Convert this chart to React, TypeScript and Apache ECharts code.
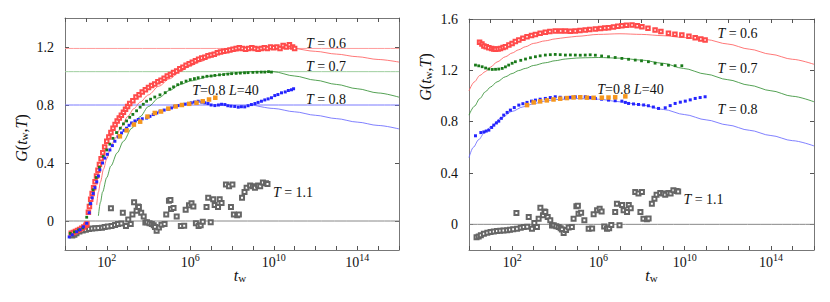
import { useEffect, useRef } from 'react';
import * as echarts from 'echarts';

type P = [number, number][];

// x values are log10(t_w)
const xLabelExps = [2, 6, 10, 14];
const leftYTicks = [0, 0.4, 0.8, 1.2];
const rightYTicks = [0, 0.4, 0.8, 1.2, 1.6];

// Left panel horizontal reference levels: T=0.6, 0.7, 0.8, zero line
const leftHLineLevels = [1.19, 1.03, 0.8, 0];

// ---------- LEFT PANEL DATA ----------
const leftRed: P = [
  [0.3, -0.085], [0.4, -0.08], [0.5, -0.072], [0.6, -0.066], [0.7, -0.058], [0.8, -0.05], [0.9, -0.042], [1.0, -0.03], [1.05, -0.02],
  [1.12, 0.06], [1.17, 0.1], [1.23, 0.15], [1.3, 0.19], [1.37, 0.23], [1.44, 0.27], [1.51, 0.31], [1.58, 0.35], [1.65, 0.39],
  [1.73, 0.43], [1.81, 0.47], [1.9, 0.51], [2.0, 0.55], [2.1, 0.58], [2.2, 0.61], [2.3, 0.64], [2.4, 0.665], [2.5, 0.69],
  [2.6, 0.71], [2.7, 0.73], [2.8, 0.75], [2.9, 0.77], [3.0, 0.79], [3.1, 0.81], [3.25, 0.83], [3.4, 0.855], [3.55, 0.87],
  [3.7, 0.89], [3.85, 0.905], [4.0, 0.92], [4.15, 0.935], [4.3, 0.945], [4.45, 0.96], [4.6, 0.97], [4.75, 0.985], [4.9, 1.0],
  [5.05, 1.01], [5.2, 1.025], [5.35, 1.035], [5.5, 1.05], [5.65, 1.06], [5.8, 1.075], [5.95, 1.085], [6.1, 1.095], [6.25, 1.105],
  [6.4, 1.115], [6.55, 1.125], [6.7, 1.13], [6.85, 1.14], [7.0, 1.145], [7.15, 1.15], [7.3, 1.16], [7.45, 1.165], [7.6, 1.17],
  [7.75, 1.175], [7.9, 1.18], [8.05, 1.185], [8.2, 1.19], [8.35, 1.195], [8.5, 1.19], [8.65, 1.185], [8.8, 1.19], [8.95, 1.195],
  [9.1, 1.19], [9.25, 1.185], [9.4, 1.19], [9.55, 1.195], [9.7, 1.19], [9.85, 1.2], [10.0, 1.195], [10.15, 1.2], [10.3, 1.19],
  [10.45, 1.21], [10.6, 1.2], [10.75, 1.215], [10.9, 1.2], [11.0, 1.19],
];

const leftGreen: P = [
  [0.25, -0.085], [0.45, -0.075], [0.65, -0.062], [0.85, -0.048], [1.04, 0.026], [1.2, 0.12], [1.35, 0.215], [1.5, 0.3],
  [1.65, 0.37], [1.83, 0.445], [2.0, 0.49], [2.15, 0.53], [2.3, 0.57], [2.47, 0.61], [2.65, 0.64], [2.8, 0.67], [2.95, 0.69],
  [3.1, 0.715], [3.25, 0.735], [3.43, 0.76], [3.6, 0.785], [3.75, 0.805], [3.91, 0.826], [4.1, 0.84], [4.3, 0.855], [4.55, 0.87],
  [4.8, 0.885], [5.02, 0.91], [5.2, 0.925], [5.4, 0.94], [5.58, 0.954], [5.8, 0.965], [6.0, 0.975], [6.2, 0.982], [6.38, 0.988],
  [6.6, 0.992], [6.8, 0.998], [7.0, 1.0], [7.18, 1.004], [7.4, 1.008], [7.6, 1.01], [7.8, 1.013], [7.98, 1.016], [8.2, 1.018],
  [8.4, 1.02], [8.6, 1.022], [8.77, 1.023], [9.0, 1.025], [9.2, 1.026], [9.4, 1.027], [9.57, 1.027], [9.75, 1.03], [9.89, 1.027],
];

const leftBlue: P = [
  [0.2, -0.11], [0.35, -0.095], [0.56, -0.074], [0.72, -0.06], [0.88, -0.04], [1.04, -0.016], [1.16, 0.057], [1.23, 0.12],
  [1.3, 0.16], [1.35, 0.19], [1.43, 0.23], [1.52, 0.27], [1.6, 0.31], [1.67, 0.353], [1.8, 0.4], [1.91, 0.434], [2.03, 0.46],
  [2.15, 0.49], [2.27, 0.52], [2.39, 0.55], [2.55, 0.58], [2.71, 0.607], [2.83, 0.625], [2.95, 0.64], [3.07, 0.66], [3.19, 0.676],
  [3.35, 0.69], [3.51, 0.7], [3.7, 0.705], [3.91, 0.71], [4.07, 0.722], [4.23, 0.734], [4.4, 0.745], [4.55, 0.757], [4.75, 0.765],
  [4.94, 0.77], [5.1, 0.78], [5.25, 0.79], [5.42, 0.796], [5.6, 0.8], [5.75, 0.806], [5.9, 0.81], [6.05, 0.815], [6.2, 0.82],
  [6.38, 0.826], [6.55, 0.82], [6.7, 0.815], [6.85, 0.81], [7.0, 0.8], [7.18, 0.796], [7.35, 0.8], [7.5, 0.805], [7.66, 0.803],
  [7.8, 0.795], [7.95, 0.792], [8.13, 0.79], [8.3, 0.785], [8.45, 0.788], [8.61, 0.787], [8.77, 0.795], [8.93, 0.803], [9.1, 0.81],
  [9.25, 0.818], [9.41, 0.826], [9.57, 0.835], [9.73, 0.842], [9.89, 0.85], [10.05, 0.865], [10.2, 0.872], [10.37, 0.884],
  [10.55, 0.89], [10.7, 0.9], [10.85, 0.905], [10.95, 0.912],
];

const leftOrange: P = [
  [2.63, 0.584], [2.95, 0.625], [3.3, 0.665], [3.6, 0.685], [3.95, 0.72], [4.3, 0.745], [4.6, 0.755], [4.95, 0.775],
  [5.3, 0.79], [5.6, 0.8], [5.95, 0.808], [6.3, 0.815], [6.6, 0.826], [6.9, 0.838], [7.2, 0.85],
];

const leftRedFit: P = [
  [1.52, 0.11], [1.6, 0.2], [1.7, 0.27], [1.85, 0.36], [2.0, 0.43], [2.2, 0.51], [2.4, 0.57], [2.7, 0.65], [3.0, 0.72],
  [3.3, 0.775], [3.6, 0.82], [4.0, 0.87], [4.5, 0.93], [5.0, 0.98], [5.5, 1.03], [6.0, 1.07], [6.5, 1.1], [7.0, 1.13],
  [7.5, 1.155], [8.0, 1.17], [9.0, 1.185], [10.0, 1.19], [10.9, 1.19], [12, 1.17], [13, 1.151], [14, 1.133], [15, 1.114], [16, 1.096],
];
const leftGreenFit: P = [
  [1.6, 0.035], [1.7, 0.13], [1.8, 0.2], [2.0, 0.3], [2.2, 0.38], [2.5, 0.47], [2.8, 0.55], [3.2, 0.64], [3.6, 0.72],
  [4.0, 0.79], [4.5, 0.85], [5.0, 0.9], [5.5, 0.94], [6.0, 0.965], [7.0, 1.0], [8.0, 1.02], [9.0, 1.03], [9.97, 1.03],
  [11, 1.0], [12, 0.971], [13, 0.942], [14, 0.912], [15, 0.883], [16, 0.854],
];
const leftBlueFit: P = [
  [9.0, 0.8], [10, 0.776], [11, 0.753], [12, 0.729], [13, 0.706], [14, 0.682], [15, 0.659], [16, 0.635],
];

// ---------- RIGHT PANEL DATA ----------
const rightRed: P = [
  [0.49, 1.418], [0.6, 1.405], [0.69, 1.39], [0.8, 1.383], [0.92, 1.376], [1.05, 1.37], [1.15, 1.366], [1.23, 1.364],
  [1.35, 1.366], [1.46, 1.371], [1.58, 1.378], [1.69, 1.384], [1.85, 1.397], [2.0, 1.41], [2.15, 1.424], [2.31, 1.436],
  [2.5, 1.45], [2.69, 1.462], [2.9, 1.472], [3.08, 1.48], [3.3, 1.489], [3.54, 1.496], [3.75, 1.502], [4.0, 1.507],
  [4.25, 1.506], [4.47, 1.507], [4.7, 1.505], [4.93, 1.507], [5.15, 1.51], [5.39, 1.514], [5.6, 1.518], [5.86, 1.522],
  [6.1, 1.526], [6.3, 1.53], [6.47, 1.532], [6.7, 1.538], [6.9, 1.544], [7.09, 1.548], [7.3, 1.551], [7.56, 1.553],
  [7.8, 1.548], [8.02, 1.54], [8.3, 1.528], [8.63, 1.514], [8.9, 1.503], [9.25, 1.489], [9.55, 1.482], [9.87, 1.475],
  [10.2, 1.465], [10.49, 1.454], [10.75, 1.445], [10.95, 1.436],
];

const rightGreen: P = [
  [0.3, 1.241], [0.45, 1.235], [0.61, 1.228], [0.77, 1.218], [0.92, 1.21], [1.08, 1.207], [1.23, 1.208], [1.38, 1.21],
  [1.54, 1.215], [1.69, 1.227], [1.84, 1.241], [2.0, 1.255], [2.15, 1.267], [2.4, 1.278], [2.62, 1.288], [2.85, 1.298],
  [3.08, 1.306], [3.3, 1.313], [3.54, 1.319], [3.77, 1.322], [4.0, 1.324], [4.23, 1.322], [4.47, 1.319], [4.7, 1.32],
  [4.93, 1.319], [5.16, 1.318], [5.39, 1.319], [5.62, 1.321], [5.86, 1.318], [6.15, 1.312], [6.47, 1.306], [6.78, 1.3],
  [7.09, 1.293], [7.4, 1.286], [7.71, 1.28], [8.0, 1.274], [8.32, 1.267], [8.63, 1.256], [8.94, 1.246], [9.25, 1.24],
  [9.56, 1.236], [9.87, 1.236],
];

const rightBlue: P = [
  [0.3, 0.69], [0.55, 0.715], [0.69, 0.72], [0.8, 0.727], [0.92, 0.734], [1.05, 0.755], [1.15, 0.773], [1.27, 0.79],
  [1.38, 0.804], [1.5, 0.826], [1.61, 0.851], [1.77, 0.872], [1.92, 0.89], [2.1, 0.91], [2.31, 0.929], [2.5, 0.94],
  [2.69, 0.95], [2.9, 0.96], [3.08, 0.968], [3.3, 0.975], [3.54, 0.981], [3.77, 0.988], [4.0, 0.994], [4.23, 0.99],
  [4.47, 0.986], [4.7, 0.99], [4.93, 0.994], [5.16, 0.995], [5.39, 0.994], [5.62, 0.988], [5.86, 0.981], [6.15, 0.975],
  [6.47, 0.968], [6.78, 0.963], [7.09, 0.96], [7.25, 0.95], [7.4, 0.942], [7.63, 0.938], [7.86, 0.934], [8.1, 0.93],
  [8.32, 0.924], [8.55, 0.914], [8.79, 0.903], [9.1, 0.908], [9.33, 0.925], [9.56, 0.942], [9.8, 0.952], [10.03, 0.96],
  [10.26, 0.97], [10.49, 0.981], [10.72, 0.988], [10.95, 0.994],
];

const rightOrange: P = [
  [2.69, 0.929], [3.0, 0.95], [3.3, 0.958], [3.61, 0.966], [3.92, 0.973], [4.23, 0.979], [4.54, 0.984], [4.85, 0.989],
  [5.16, 0.99], [5.47, 0.987], [5.78, 0.986], [6.16, 0.987], [6.47, 0.988], [6.78, 0.99], [7.25, 0.997],
];

const rightRedFit: P = [
  [0, 1.04], [0.25, 1.11], [0.5, 1.16], [0.76, 1.19], [1.0, 1.225], [1.3, 1.265], [1.69, 1.306], [2.0, 1.335], [2.3, 1.36],
  [2.62, 1.384], [3.0, 1.41], [3.54, 1.43], [4.0, 1.445], [4.5, 1.456], [5, 1.465], [6, 1.48], [7, 1.485], [8, 1.48],
  [9, 1.47], [10, 1.455], [11, 1.44], [12, 1.405], [13, 1.365], [14, 1.325], [15, 1.286], [16, 1.247],
];
const rightGreenFit: P = [
  [0, 0.851], [0.25, 0.92], [0.5, 0.98], [0.76, 1.033], [1.0, 1.07], [1.3, 1.11], [1.69, 1.15], [2.0, 1.175], [2.3, 1.198],
  [2.62, 1.215], [3.0, 1.238], [3.54, 1.259], [4.0, 1.275], [4.47, 1.288], [5.0, 1.296], [5.39, 1.298], [6.0, 1.3],
  [7, 1.295], [8, 1.28], [9, 1.255], [9.94, 1.215], [11, 1.17], [12, 1.127], [13, 1.084], [14, 1.041], [15, 0.998], [16, 0.955],
];
const rightBlueFit: P = [
  [0, 0.52], [0.2, 0.6], [0.45, 0.66], [0.7, 0.71], [1.0, 0.76], [1.5, 0.83], [2.0, 0.88], [2.5, 0.915], [3.0, 0.94],
  [3.5, 0.96], [4.0, 0.972], [5.0, 0.98], [6.0, 0.975], [7.0, 0.955], [8.0, 0.93], [9.02, 0.895], [10, 0.855], [11, 0.814],
  [12, 0.774], [13, 0.733], [14, 0.692], [15, 0.652], [16, 0.611],
];

// T = 1.1 (same in both panels)
const black11: P = [
  [0.35, -0.1], [0.45, -0.095], [0.55, -0.085], [0.69, -0.073], [0.85, -0.065], [1.0, -0.06], [1.15, -0.055], [1.3, -0.052],
  [1.45, -0.05], [1.6, -0.048], [1.77, -0.047], [1.9, -0.042], [2.05, -0.038], [2.23, -0.034], [2.4, -0.027], [2.54, -0.021],
  [2.7, -0.018], [2.2, 0.088], [2.77, 0.057], [2.92, -0.034], [3.03, 0.01], [3.15, -0.02], [3.23, 0.044], [3.31, 0.13],
  [3.43, 0.07], [3.5, 0.1], [3.54, 0.096], [3.65, 0.057], [3.77, 0.031], [3.85, -0.01], [3.93, -0.008], [4.05, -0.015],
  [4.16, -0.021], [4.25, -0.03], [4.31, -0.041], [4.39, -0.068], [4.5, -0.045], [4.62, -0.025], [4.77, -0.02], [4.85, 0.044],
  [4.98, 0.14], [5.05, 0.145], [5.08, 0.083], [5.2, 0.09], [5.35, 0.031], [5.55, -0.034], [5.71, -0.032], [5.78, 0.078],
  [5.94, 0.109], [6.06, 0.122], [6.15, 0.1], [6.27, -0.016], [6.4, -0.034], [6.5, -0.03], [6.6, -0.005], [6.78, 0.096],
  [6.86, 0.161], [6.98, -0.008], [7.1, 0.15], [7.17, 0.11], [7.33, 0.096], [7.41, 0.15], [7.5, 0.125], [7.71, 0.252],
  [7.86, 0.24], [8.02, 0.252], [7.95, 0.096], [8.09, 0.044], [8.25, 0.04], [8.33, 0.045], [8.48, 0.161], [8.6, 0.2],
  [8.7, 0.23], [8.87, 0.245], [9.0, 0.24], [9.1, 0.23], [9.25, 0.245], [9.35, 0.24], [9.48, 0.265], [9.63, 0.26], [9.7, 0.255],
];

const SERIF = 'Liberation Serif';
const RED = '#ff4a4a';
const GREEN = '#1a7a1a';
const BLUE = '#2424ff';
const BLACK = '#666';
const ORANGE = '#f5961e';

function fmtY(ticks: number[]) {
  return (v: number) => {
    const r = Math.round(v * 10) / 10;
    return ticks.some((t) => Math.abs(t - r) < 1e-6) && Math.abs(v - r) < 1e-6 ? String(r) : '';
  };
}

function xAxesFor(grid: number) {
  const common = {
    type: 'value' as const,
    gridIndex: grid,
    min: 0,
    max: 16,
    interval: 1,
    splitLine: { show: false },
    axisLine: { show: true, onZero: false, lineStyle: { color: '#777', width: 1 } },
    axisTick: { show: true, inside: true, length: 4, lineStyle: { color: '#555' } },
  };
  return [
    {
      ...common,
      position: 'bottom',
      axisLabel: {
        customValues: xLabelExps,
        margin: 5,
        color: '#111',
        formatter: (v: number) => (xLabelExps.includes(Math.round(v)) ? `{b|10}{s|${Math.round(v)}}` : ''),
        rich: {
          b: { fontFamily: SERIF, fontSize: 14, color: '#111', verticalAlign: 'bottom', lineHeight: 14 },
          s: { fontFamily: SERIF, fontSize: 10, color: '#111', verticalAlign: 'bottom', lineHeight: 10, padding: [0, 0, 7, 0] },
        },
      },
    },
    { ...common, position: 'top', axisLabel: { show: false } },
  ];
}

function yAxesFor(grid: number, max: number, ticks: number[]) {
  const common = {
    type: 'value' as const,
    gridIndex: grid,
    min: -0.2,
    max,
    interval: 0.2,
    splitLine: { show: false },
    axisLine: { show: true, onZero: false, lineStyle: { color: '#777', width: 1 } },
    axisTick: { show: true, inside: true, length: 4, customValues: ticks, lineStyle: { color: '#555' } },
  };
  return [
    {
      ...common,
      position: 'left',
      axisLabel: {
        customValues: ticks,
        margin: 11,
        color: '#111',
        fontFamily: SERIF,
        fontSize: 14,
        formatter: fmtY(ticks),
      },
    },
    { ...common, position: 'right', axisLabel: { show: false } },
  ];
}

function lineS(data: P, xi: number, yi: number, color: string, width = 0.8) {
  return {
    type: 'line',
    xAxisIndex: xi,
    yAxisIndex: yi,
    data,
    symbol: 'none',
    showSymbol: false,
    smooth: 0.3,
    smoothMonotone: 'x',
    silent: true,
    z: 1,
    lineStyle: { color, width },
  };
}

function scatterS(data: P, xi: number, yi: number, symbol: string, size: number, color: string, border: number, z: number) {
  return {
    type: 'scatter',
    xAxisIndex: xi,
    yAxisIndex: yi,
    data,
    symbol,
    symbolSize: size,
    silent: true,
    z,
    itemStyle: { color, borderColor: color, borderWidth: border, opacity: 1 },
  };
}

function label(x: number, y: number, parts: string, size = 14) {
  return {
    type: 'text',
    x,
    y,
    silent: true,
    style: {
      text: parts,
      align: 'center',
      verticalAlign: 'middle',
      fontFamily: SERIF,
      fontSize: size,
      fill: '#111',
      rich: {
        i: { fontFamily: SERIF, fontSize: size, fontStyle: 'italic', fill: '#111' },
        n: { fontFamily: SERIF, fontSize: size, fill: '#111' },
      },
    },
  };
}

function axisTitleX(x: number, y: number) {
  return {
    type: 'text',
    x,
    y,
    silent: true,
    style: {
      text: '{t|t}{w|w}',
      align: 'center',
      verticalAlign: 'middle',
      rich: {
        t: { fontFamily: SERIF, fontSize: 16, fontStyle: 'italic', fill: '#111', verticalAlign: 'top', lineHeight: 16 },
        w: { fontFamily: SERIF, fontSize: 11, fill: '#111', verticalAlign: 'bottom', lineHeight: 11, padding: [8, 0, 0, 0] },
      },
    },
  };
}

function axisTitleY(x: number, y: number) {
  return {
    type: 'text',
    x,
    y,
    rotation: Math.PI / 2,
    silent: true,
    style: {
      text: '{i|G}{n|(}{i|t}{w|w}{n|,}{i|T}{n|)}',
      align: 'center',
      verticalAlign: 'middle',
      rich: {
        i: { fontFamily: SERIF, fontSize: 16, fontStyle: 'italic', fill: '#111', verticalAlign: 'top', lineHeight: 16 },
        n: { fontFamily: SERIF, fontSize: 16, fill: '#111', verticalAlign: 'top', lineHeight: 16 },
        w: { fontFamily: SERIF, fontSize: 11, fill: '#111', verticalAlign: 'bottom', lineHeight: 11, padding: [8, 0, 0, 0] },
      },
    },
  };
}

function buildOption() {
  const series: any[] = [];
  // Left panel (x 0, y 0)
  leftHLineLevels.forEach((lvl, i) => {
    const c = ['#ff9c9c', '#9fcf9f', '#7a7aff', '#888'][i];
    series.push(lineS([[0, lvl], [16, lvl]], 0, 0, c, 1));
  });
  series.push(lineS(leftRedFit, 0, 0, '#ff5555'));
  series.push(lineS(leftGreenFit, 0, 0, '#2a8a2a'));
  series.push(lineS(leftBlueFit, 0, 0, '#6060ff'));
  series.push(scatterS(black11, 0, 0, 'emptyRect', 4, BLACK, 0.6, 3));
  series.push(scatterS(leftRed, 0, 0, 'emptyRect', 3.5, RED, 0.6, 4));
  series.push(scatterS(leftGreen, 0, 0, 'rect', 2.8, GREEN, 0, 5));
  series.push(scatterS(leftBlue, 0, 0, 'rect', 3, BLUE, 0, 6));
  series.push(scatterS(leftOrange, 0, 0, 'rect', 4.5, ORANGE, 0, 7));

  // Right panel (x 2, y 2)
  series.push(lineS([[0, 0], [16, 0]], 2, 2, '#888', 1));
  series.push(lineS(rightRedFit, 2, 2, '#ff5555'));
  series.push(lineS(rightGreenFit, 2, 2, '#2a8a2a'));
  series.push(lineS(rightBlueFit, 2, 2, '#6060ff'));
  series.push(scatterS(black11, 2, 2, 'emptyRect', 4, BLACK, 0.6, 3));
  series.push(scatterS(rightRed, 2, 2, 'emptyRect', 3.5, RED, 0.6, 4));
  series.push(scatterS(rightGreen, 2, 2, 'rect', 2.8, GREEN, 0, 5));
  series.push(scatterS(rightBlue, 2, 2, 'rect', 3, BLUE, 0, 6));
  series.push(scatterS(rightOrange, 2, 2, 'rect', 4.5, ORANGE, 0, 7));

  return {
    animation: false,
    backgroundColor: '#fff',
    grid: [
      { left: 65, top: 18, width: 334, height: 232 },
      { left: 469, top: 19, width: 345, height: 231 },
    ],
    xAxis: [...xAxesFor(0), ...xAxesFor(1)],
    yAxis: [...yAxesFor(0, 1.4, leftYTicks), ...yAxesFor(1, 1.6, rightYTicks)],
    series,
    graphic: [
      label(326, 43.5, '{i|T}{n| = 0.6}'),
      label(326, 66.5, '{i|T}{n| = 0.7}'),
      label(326, 99.5, '{i|T}{n| = 0.8}'),
      label(293, 192.7, '{i|T}{n| = 1.1}'),
      label(225.5, 90.7, '{i|T}{n|=0.8 }{i|L}{n|=40}', 14),
      label(737.5, 33.3, '{i|T}{n| = 0.6}'),
      label(737.5, 68.3, '{i|T}{n| = 0.7}'),
      label(737.5, 109.3, '{i|T}{n| = 0.8}'),
      label(703.5, 199, '{i|T}{n| = 1.1}'),
      label(630.5, 89.3, '{i|T}{n|=0.8 }{i|L}{n|=40}', 14),
      axisTitleX(240, 275),
      axisTitleX(651.5, 275),
      axisTitleY(21.5, 138),
      axisTitleY(425, 77),
    ],
  };
}

export default function App() {
  const ref = useRef<HTMLDivElement>(null);
  useEffect(() => {
    if (!ref.current) return;
    const chart = echarts.init(ref.current, undefined, { renderer: 'svg' });
    chart.setOption(buildOption() as any);
    return () => chart.dispose();
  }, []);
  return (
    <div
      ref={ref}
      style={{ position: 'absolute', left: 0, top: 0, width: 830, height: 302, background: '#fff' }}
    />
  );
}
